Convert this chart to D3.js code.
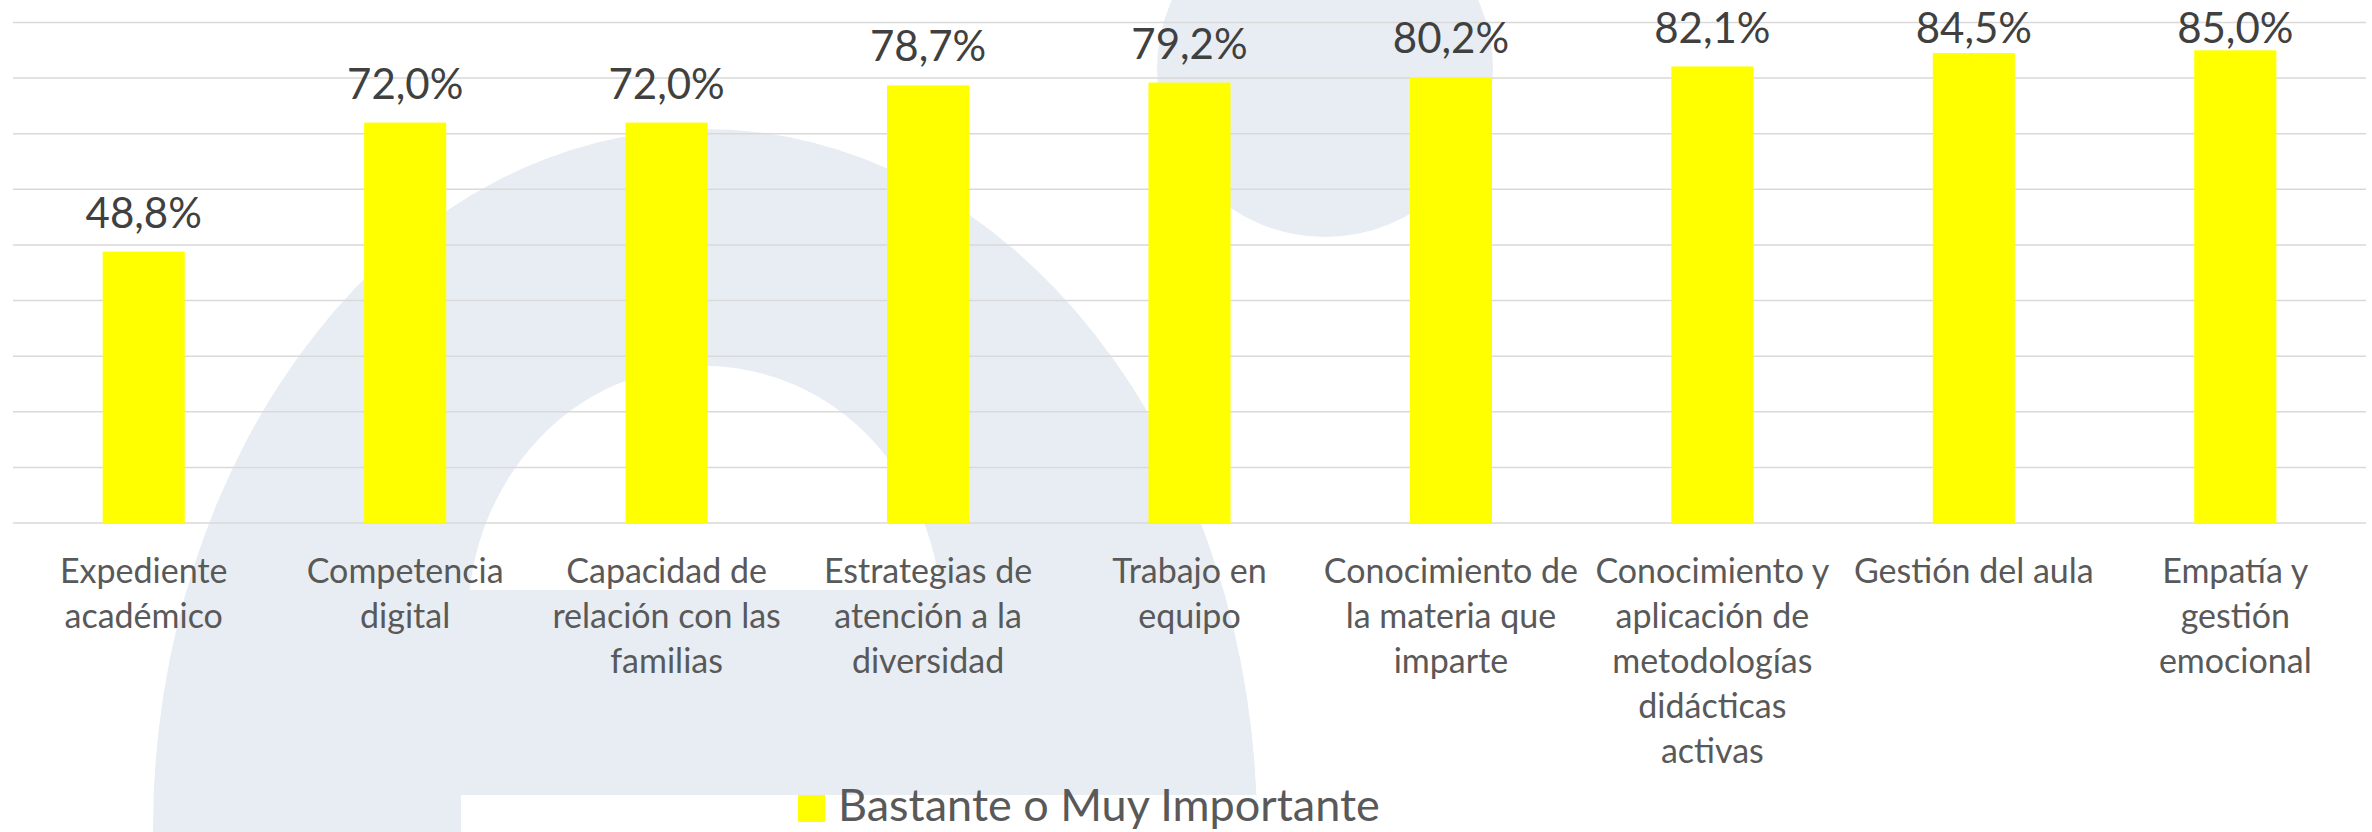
<!DOCTYPE html>
<html lang="es">
<head>
<meta charset="UTF-8">
<title>Bastante o Muy Importante</title>
<script src="https://d3js.org/d3.v7.min.js"></script>
<style>
    body { margin: 0; background: #fff; }
    svg { display: block; font-family: Lato, "Open Sans", sans-serif; }
    .grid line { stroke: #d9d9d9; stroke-width: 1.5; }
    .bar { fill: #ffff00; }
    .value { fill: #404040; font-size: 42px; }
    .cat { fill: #595959; font-size: 34px; }
    .legend-text { fill: #595959; font-size: 45px; }
    .mark { fill: #e8edf3; }
    .hole { fill: #fff; }
</style>
</head>
<body>
<svg width="2372" height="832"></svg>
<script>
// data
const categories = [
    "Expediente\nacadémico",
    "Competencia\ndigital",
    "Capacidad de\nrelación con las\nfamilias",
    "Estrategias de\natención a la\ndiversidad",
    "Trabajo en\nequipo",
    "Conocimiento de\nla materia que\nimparte",
    "Conocimiento y\naplicación de\nmetodologías\ndidácticas\nactivas",
    "Gestión del aula",
    "Empatía y\ngestión\nemocional"
];
const values = [0.488, 0.720, 0.720, 0.787, 0.792, 0.802, 0.821, 0.845, 0.850];
const yTicks = [0, 0.1, 0.2, 0.3, 0.4, 0.5, 0.6, 0.7, 0.8, 0.9];
const seriesName = "Bastante o Muy Importante";

const svg = d3.select("svg");
const width = 2372, height = 832;

const x = d3.scaleBand()
    .domain(categories)
    .range([13, 2366])
    .paddingInner(0.686)
    .paddingOuter(0.343);

const y = d3.scaleLinear()
    .domain([0, 0.9])
    .range([523, 22.5]);

const es = d3.formatLocale({decimal: ",", thousands: ".", grouping: [3], currency: ["", " €"]});
const pct = es.format(".1%");

// faded logo in the background
svg.append("defs").append("clipPath").attr("id", "outer")
    .append("ellipse")
    .attr("cx", 705).attr("cy", 832).attr("rx", 552).attr("ry", 703);

const logo = svg.append("g").attr("clip-path", "url(#outer)");
logo.append("rect").attr("class", "mark")
    .attr("x", 0).attr("y", 0).attr("width", width).attr("height", height);
logo.append("ellipse").attr("class", "hole")
    .attr("cx", 705).attr("cy", 620).attr("rx", 237).attr("ry", 254);
logo.append("rect").attr("class", "mark")
    .attr("x", 0).attr("y", 590).attr("width", width).attr("height", 205);
logo.append("rect").attr("class", "hole")
    .attr("x", 461).attr("y", 795).attr("width", width).attr("height", 40);

svg.append("circle").attr("class", "mark")
    .attr("cx", 1325).attr("cy", 69).attr("r", 168);

// gridlines
svg.append("g").attr("class", "grid")
    .selectAll("line")
    .data(yTicks)
    .join("line")
    .attr("x1", 13).attr("x2", 2366)
    .attr("y1", d => y(d)).attr("y2", d => y(d));

// bars
svg.append("g")
    .selectAll("rect")
    .data(values)
    .join("rect")
    .attr("class", "bar")
    .attr("x", (d, i) => x(categories[i]))
    .attr("width", x.bandwidth())
    .attr("y", d => y(d))
    .attr("height", d => y(0) - y(d));

// value labels (pushed down when they would leave the chart, like Excel does)
svg.append("g")
    .selectAll("text")
    .data(values)
    .join("text")
    .attr("class", "value")
    .attr("text-anchor", "middle")
    .attr("x", (d, i) => x(categories[i]) + x.bandwidth() / 2)
    .attr("y", d => Math.max(y(d) - 24, 43))
    .text(d => pct(d));

// category labels
const cats = svg.append("g")
    .selectAll("text")
    .data(categories)
    .join("text")
    .attr("class", "cat")
    .attr("text-anchor", "middle")
    .attr("x", d => x(d) + x.bandwidth() / 2)
    .attr("y", 583);

cats.selectAll("tspan")
    .data(d => d.split("\n").map(line => ({line, cx: x(d) + x.bandwidth() / 2})))
    .join("tspan")
    .attr("x", d => d.cx)
    .attr("dy", (d, i) => i === 0 ? 0 : 45)
    .text(d => d.line);

// legend
const legend = svg.append("g");
legend.append("rect").attr("class", "bar")
    .attr("x", 798).attr("y", 795).attr("width", 27).attr("height", 27);
legend.append("text").attr("class", "legend-text")
    .attr("x", 838).attr("y", 821)
    .text(seriesName);
</script>
</body>
</html>
